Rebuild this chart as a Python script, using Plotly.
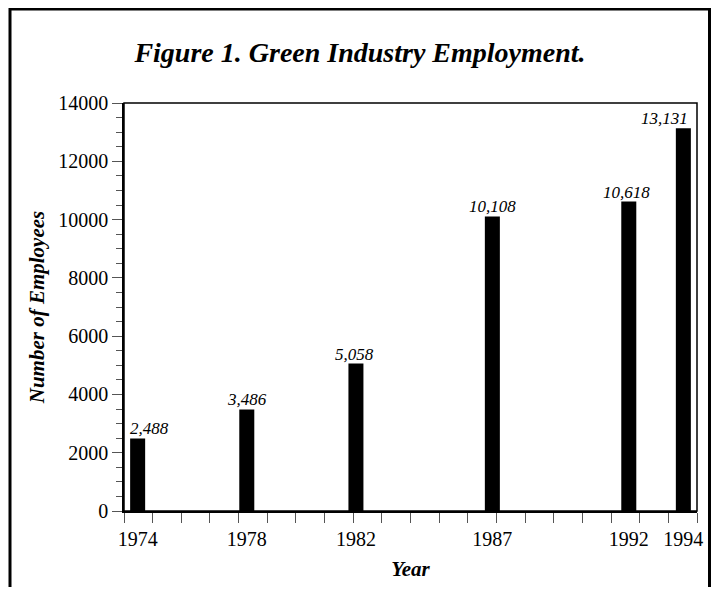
import plotly.graph_objects as go

# ---- data ----
years = [1974, 1978, 1982, 1987, 1992, 1994]
employees = [2488, 3486, 5058, 10108, 10618, 13131]
x_tick_labels = ["1974", "1978", "1982", "1987", "1992", "1994"]
y_tick_vals = [0, 2000, 4000, 6000, 8000, 10000, 12000, 14000]
y_tick_labels = ["0", "2000", "4000", "6000", "8000", "10000", "12000", "14000"]

# ---- layout geometry (page has an 8px body margin; keep figure inside the window) ----
W, H = 703, 579
ML, MR, MT, MB = 116, 14, 95, 76
PW, PH = W - ML - MR, H - MT - MB

FONT = "Liberation Serif, Times New Roman, serif"

fig = go.Figure()
# bars on the year axis whose labels sit under the bars
fig.add_trace(go.Bar(
    x=years, y=employees, xaxis="x", yaxis="y",
    width=0.55, marker=dict(color="black", line=dict(width=0)),
    showlegend=False, hoverinfo="x+y",
))
# invisible trace so the tick-mark year axis is drawn
fig.add_trace(go.Scatter(
    x=[years[0], years[-1]], y=[0, 0], xaxis="x2", yaxis="y",
    mode="markers", marker=dict(opacity=0), showlegend=False, hoverinfo="skip",
))

# value labels above bars (anchors keep them inside the frame)
anchors = ["left", "center", "center", "center", "center", "right"]
shifts = [-10, 0, -1, 0, -2, 7]
for yr, v, a, s in zip(years, employees, anchors, shifts):
    fig.add_annotation(
        x=yr, y=v, xref="x", yref="y", text=f"{v:,}",
        showarrow=False, xanchor=a, yanchor="bottom", xshift=s, yshift=-2,
        font=dict(family=FONT, size=17, color="black", style="italic"),
    )

fig.update_layout(
    width=W, height=H,
    margin=dict(l=ML, r=MR, t=MT, b=MB, autoexpand=False),
    paper_bgcolor="white", plot_bgcolor="white",
    font=dict(family=FONT, color="black"),
    title=dict(
        text="<b><i>Figure 1. Green Industry Employment.</i></b>",
        x=352 / W, xref="container", xanchor="center",
        y=1 - 44 / H, yref="container", yanchor="middle",
        font=dict(family=FONT, size=28, color="black"),
    ),
    xaxis=dict(
        range=[1973.5, 1994.5], tickmode="array", tickvals=years, ticktext=x_tick_labels,
        ticks="outside", ticklen=10, tickcolor="rgba(0,0,0,0)",
        showline=False, showgrid=False, zeroline=False,
        tickfont=dict(family=FONT, size=20, color="black"),
        title=dict(text="<b><i>Year</i></b>", font=dict(family=FONT, size=21, color="black"), standoff=12),
    ),
    xaxis2=dict(
        range=[1974, 1994], overlaying="x", side="bottom", anchor="y",
        tickmode="linear", tick0=1974, dtick=1, showticklabels=False,
        ticks="outside", ticklen=10, tickwidth=1, tickcolor="#555",
        showline=True, linecolor="black", linewidth=1.5,
        showgrid=False, zeroline=False,
    ),
    yaxis=dict(
        range=[0, 14000], tickmode="array", tickvals=y_tick_vals, ticktext=y_tick_labels,
        ticks="outside", ticklen=10, tickwidth=1, tickcolor="#555",
        minor=dict(dtick=500, ticks="outside", ticklen=6, tickwidth=1, tickcolor="#555"),
        showline=True, linecolor="black", linewidth=1.5,
        showgrid=False, zeroline=False,
        tickfont=dict(family=FONT, size=20, color="black"),
        title=dict(text="<b><i>Number of Employees</i></b>", font=dict(family=FONT, size=21, color="black"), standoff=8),
    ),
    shapes=[
        # plot frame
        dict(type="rect", xref="paper", yref="paper", x0=0, x1=1, y0=0, y1=1,
             line=dict(color="black", width=1.5), fillcolor="rgba(0,0,0,0)", layer="above"),
        # outer border
        dict(type="rect", xref="paper", yref="paper",
             x0=(2 - ML) / PW, x1=(701.5 - ML) / PW,
             y0=(H - MB - 620) / PH, y1=(H - MB - 1) / PH,
             line=dict(color="black", width=3), fillcolor="rgba(0,0,0,0)", layer="below"),
    ],
)

fig.write_html("out.html")
